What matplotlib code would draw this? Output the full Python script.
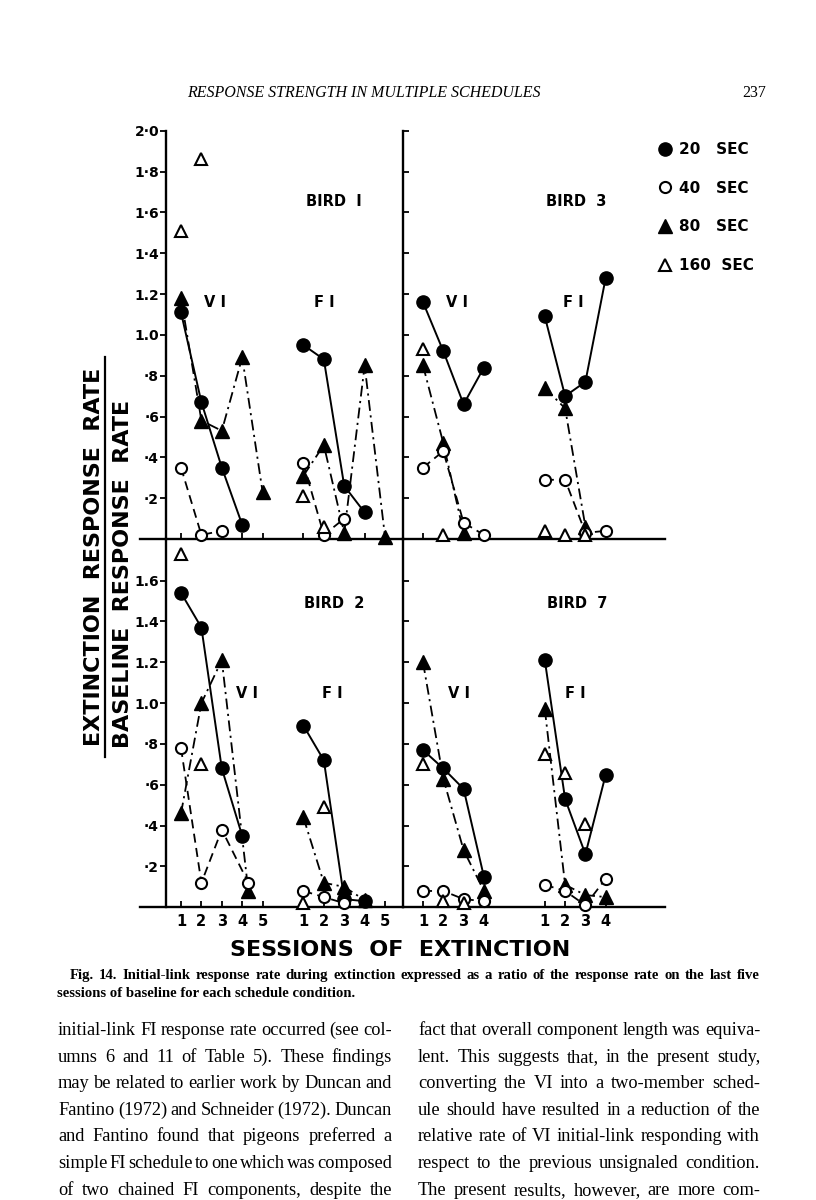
import numpy as np
import matplotlib
matplotlib.use("Agg")
import matplotlib.pyplot as plt
from matplotlib.lines import Line2D

nan = np.nan

# session positions (FI block drawn 6 units right of the VI block)
vi_x5 = [1, 2, 3, 4, 5]
fi_x5 = [7, 8, 9, 10, 11]
vi_x4 = [1, 2, 3, 4]
fi_x4 = [7, 8, 9, 10]
b2_vi_x_late = [1, 2, 3, 4.3]   # 40 s and 80 s points of bird 2, session 4 drawn offset

# Bird 1 (ratio extinction / baseline)
b1_vi_20 = [1.11, 0.67, 0.35, 0.07, nan]
b1_vi_40 = [0.35, 0.02, 0.04, nan, nan]
b1_vi_80 = [1.18, 0.58, 0.53, 0.89, 0.23]
b1_vi_160 = [1.51, 1.86, nan, nan, nan]
b1_fi_20 = [0.95, 0.88, 0.26, 0.13, nan]
b1_fi_40 = [0.37, 0.02, 0.10, nan, nan]
b1_fi_80 = [0.31, 0.46, 0.03, 0.85, 0.01]
b1_fi_160 = [0.21, 0.06, nan, nan, nan]

# Bird 3
b3_vi_20 = [1.16, 0.92, 0.66, 0.84]
b3_vi_40 = [0.35, 0.43, 0.08, 0.02]
b3_vi_80 = [0.85, 0.47, 0.03, nan]
b3_vi_160 = [0.93, 0.02, nan, nan]
b3_fi_20 = [1.09, 0.70, 0.77, 1.28]
b3_fi_40 = [0.29, 0.29, 0.03, 0.04]
b3_fi_80 = [0.74, 0.64, 0.06, nan]
b3_fi_160 = [0.04, 0.02, 0.02, nan]

# Bird 2
b2_vi_20 = [1.54, 1.37, 0.68, 0.35]
b2_vi_40 = [0.78, 0.12, 0.38, 0.12]
b2_vi_80 = [0.46, 1.00, 1.21, 0.08]
b2_vi_160 = [1.73, 0.70, nan, nan]
b2_fi_20 = [0.89, 0.72, 0.04, 0.03]
b2_fi_40 = [0.08, 0.05, 0.02, nan]
b2_fi_80 = [0.44, 0.12, 0.10, 0.035]
b2_fi_160 = [0.02, 0.49, nan, nan]

# Bird 7
b7_vi_20 = [0.77, 0.68, 0.58, 0.15]
b7_vi_40 = [0.08, 0.08, 0.04, 0.03]
b7_vi_80 = [1.20, 0.63, 0.28, 0.08]
b7_vi_160 = [0.70, 0.03, 0.02, nan]
b7_fi_20 = [1.21, 0.53, 0.26, 0.65]
b7_fi_40 = [0.11, 0.08, 0.01, 0.14]
b7_fi_80 = [0.97, 0.11, 0.06, 0.05]
b7_fi_160 = [0.75, 0.66, 0.41, nan]

top_ticks = [0.2, 0.4, 0.6, 0.8, 1.0, 1.2, 1.4, 1.6, 1.8, 2.0]
top_labels = ["·2", "·4", "·6", "·8", "1.0", "1.2", "1·4", "1·6", "1·8", "2·0"]
bot_ticks = [0.2, 0.4, 0.6, 0.8, 1.0, 1.2, 1.4, 1.6]
bot_labels = ["·2", "·4", "·6", "·8", "1.0", "1.2", "1.4", "1.6"]

legend_labels = ["20   SEC", "40   SEC", "80   SEC", "160  SEC"]

caption_1 = ("Fig. 14. Initial-link response rate during extinction expressed as a ratio "
             "of the response rate on the last five")
caption_2 = "sessions of baseline for each schedule condition."
body_left = [
    "initial-link FI response rate occurred (see col-",
    "umns 6 and 11 of Table 5). These findings",
    "may be related to earlier work by Duncan and",
    "Fantino (1972) and Schneider (1972). Duncan",
    "and Fantino found that pigeons preferred a",
    "simple FI schedule to one which was composed",
    "of two chained FI components, despite the",
]
body_right = [
    "fact that overall component length was equiva-",
    "lent. This suggests that, in the present study,",
    "converting the VI into a two-member sched-",
    "ule should have resulted in a reduction of the",
    "relative rate of VI initial-link responding with",
    "respect to the previous unsignaled condition.",
    "The present results, however, are more com-",
]

W, H = 816, 1200
fig = plt.figure(figsize=(W / 100, H / 100), dpi=100)
fig.patch.set_facecolor("white")

STY = {
    20: dict(marker="o", ms=9.5, mfc="black", mec="black", ls="-", lw=1.4),
    40: dict(marker="o", ms=8, mfc="white", mec="black", mew=1.5, ls=(0, (5, 3)), lw=1.3),
    80: dict(marker="^", ms=10, mfc="black", mec="black", ls=(0, (6, 2.5, 1.2, 2.5)), lw=1.3),
    160: dict(marker="^", ms=9, mfc="white", mec="black", mew=1.5, ls="none"),
}


def fx(px):
    return px / W


def fy(py):
    return 1 - py / H


def make_panel(left, right, top, bottom, xlim, ylim, labelled, xpos, xlabels):
    ax = fig.add_axes([fx(left), fy(bottom), (right - left) / W, (bottom - top) / H])
    ax.set_xlim(*xlim)
    ax.set_ylim(*ylim)
    ax.patch.set_alpha(0)
    for s in ("top", "right"):
        ax.spines[s].set_visible(False)
    ax.spines["left"].set_linewidth(1.7)
    ax.spines["bottom"].set_linewidth(1.7)
    ax.set_xticks(xpos)
    if xlabels:
        ax.set_xticklabels(xlabels, fontsize=10.5, fontweight="bold")
    else:
        ax.set_xticklabels([])
    ax.tick_params(axis="x", direction="in", length=4, width=1.3, pad=5)
    if labelled:
        ax.tick_params(axis="y", direction="out", length=4, width=1.3, pad=1)
    else:
        ax.tick_params(axis="y", direction="in", length=4, width=1.3, labelleft=False)
    return ax


def draw(ax, x, y, cond):
    ax.plot(x[:len(y)], y, color="black", clip_on=False,
            zorder=3 if cond in (40, 160) else 2, **STY[cond])


# --- panels ---
ax1 = make_panel(166, 403, 130.7, 539, (0.265, 11.88), (0, 2.0), True,
                 vi_x5 + fi_x5, None)
ax3 = make_panel(403, 665, 130.7, 539, (0.015, 12.92), (0, 2.0), False,
                 vi_x4 + fi_x4, None)
ax2 = make_panel(166, 403, 539, 907.3, (0.265, 11.88), (0, 1.8036), True,
                 vi_x5 + fi_x5, ["1", "2", "3", "4", "5"] * 2)
ax7 = make_panel(403, 665, 539, 907.3, (0.015, 12.92), (0, 1.8036), False,
                 vi_x4 + fi_x4, ["1", "2", "3", "4"] * 2)

for ax in (ax1, ax2):
    ax.spines["bottom"].set_bounds(-1.0, 11.88)
ax1.set_yticks(top_ticks)
ax1.set_yticklabels(top_labels, fontsize=10, fontweight="bold")
ax3.set_yticks(top_ticks)
ax2.set_yticks(bot_ticks)
ax2.set_yticklabels(bot_labels, fontsize=10, fontweight="bold")
ax7.set_yticks(bot_ticks)

# bird 1
draw(ax1, vi_x5, b1_vi_20, 20)
draw(ax1, vi_x5, b1_vi_40, 40)
draw(ax1, vi_x5, b1_vi_80, 80)
draw(ax1, vi_x5, b1_vi_160, 160)
draw(ax1, fi_x5, b1_fi_20, 20)
draw(ax1, fi_x5, b1_fi_40, 40)
draw(ax1, fi_x5, b1_fi_80, 80)
draw(ax1, fi_x5, b1_fi_160, 160)
# bird 3
draw(ax3, vi_x4, b3_vi_20, 20)
draw(ax3, vi_x4, b3_vi_40, 40)
draw(ax3, vi_x4, b3_vi_80, 80)
draw(ax3, vi_x4, b3_vi_160, 160)
draw(ax3, fi_x4, b3_fi_20, 20)
draw(ax3, fi_x4, b3_fi_40, 40)
draw(ax3, fi_x4, b3_fi_80, 80)
draw(ax3, fi_x4, b3_fi_160, 160)
# bird 2
draw(ax2, vi_x4, b2_vi_20, 20)
draw(ax2, b2_vi_x_late, b2_vi_40, 40)
draw(ax2, b2_vi_x_late, b2_vi_80, 80)
draw(ax2, vi_x4, b2_vi_160, 160)
draw(ax2, fi_x4, b2_fi_20, 20)
draw(ax2, fi_x4, b2_fi_40, 40)
draw(ax2, fi_x4, b2_fi_80, 80)
draw(ax2, fi_x4, b2_fi_160, 160)
# bird 7
draw(ax7, vi_x4, b7_vi_20, 20)
draw(ax7, vi_x4, b7_vi_40, 40)
draw(ax7, vi_x4, b7_vi_80, 80)
draw(ax7, vi_x4, b7_vi_160, 160)
draw(ax7, fi_x4, b7_fi_20, 20)
draw(ax7, fi_x4, b7_fi_40, 40)
draw(ax7, fi_x4, b7_fi_80, 80)
draw(ax7, fi_x4, b7_fi_160, 160)

# panel annotations
lab = dict(ha="center", va="center", fontsize=10.5, fontweight="bold")
for txt, x, y in [("BIRD  I", 334, 201), ("BIRD  3", 576, 201),
                  ("BIRD  2", 334, 604), ("BIRD  7", 577, 604),
                  ("V I", 215, 303), ("F I", 324, 303), ("V I", 457, 303), ("F I", 573, 303),
                  ("V I", 247, 693), ("F I", 332, 693), ("V I", 459, 693), ("F I", 575, 693)]:
    fig.text(fx(x), fy(y), txt, **lab)

# legend
handles = [Line2D([], [], ls="none", color="black",
                  **{k: v for k, v in STY[c].items() if k not in ("ls", "lw")})
           for c in (20, 40, 80, 160)]
fig.legend(handles, legend_labels, loc="upper left", bbox_to_anchor=(fx(659), fy(142)),
           frameon=False, prop=dict(weight="bold", size=11), handlelength=0.8,
           handletextpad=0.5, labelspacing=1.55, borderpad=0, borderaxespad=0)

# axis titles
fig.text(fx(94), fy(557), "EXTINCTION  RESPONSE  RATE", rotation=90, ha="center", va="center",
         fontsize=16, fontweight="bold")
fig.add_artist(Line2D([fx(105), fx(105)], [fy(357), fy(757)], color="black", lw=1.6))
fig.text(fx(123), fy(574), "BASELINE  RESPONSE  RATE", rotation=90, ha="center", va="center",
         fontsize=16, fontweight="bold")
fig.text(fx(400), fy(950), "SESSIONS  OF  EXTINCTION", ha="center", va="center",
         fontsize=16, fontweight="bold")

# page furniture
serif = "Liberation Serif"
fig.text(fx(364), fy(97), "RESPONSE STRENGTH IN MULTIPLE SCHEDULES", ha="center", va="baseline",
         family=serif, style="italic", fontsize=11.5)
fig.text(fx(754), fy(97), "237", ha="center", va="baseline", family=serif, fontsize=11.5)

renderer = fig.canvas.get_renderer()


def justify(line, x0, x1, y, **kw):
    words = line.split()
    texts = [fig.text(0, fy(y), w, va="baseline", **kw) for w in words]
    widths = [t.get_window_extent(renderer).width for t in texts]
    gap = (x1 - x0 - sum(widths)) / max(len(words) - 1, 1)
    x = x0
    for t, w in zip(texts, widths):
        t.set_x(fx(x))
        x += w + gap


cap_kw = dict(family=serif, fontsize=10.6, fontweight="bold")
justify(caption_1, 70, 760, 979, **cap_kw)
fig.text(fx(57), fy(997), caption_2, va="baseline", **cap_kw)

body_kw = dict(family=serif, fontsize=13.2)
for i, line in enumerate(body_left):
    justify(line, 58, 392, 1035 + i * 26.6, **body_kw)
for i, line in enumerate(body_right):
    justify(line, 418, 760, 1035 + i * 26.6, **body_kw)

fig.savefig("out.png", dpi=100, facecolor="white")
